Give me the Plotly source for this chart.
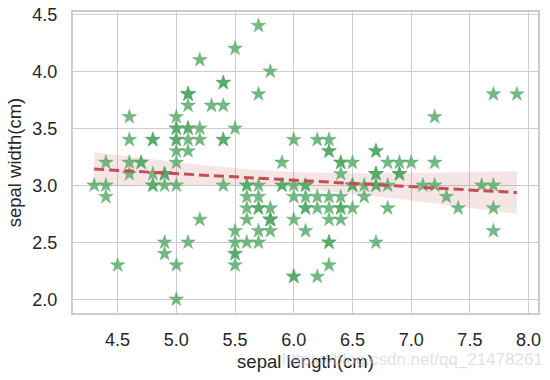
import numpy as np
import plotly.graph_objects as go

sepal_length = [
    5.1,4.9,4.7,4.6,5.0,5.4,4.6,5.0,4.4,4.9,5.4,4.8,4.8,4.3,5.8,5.7,5.4,5.1,5.7,5.1,
    5.4,5.1,4.6,5.1,4.8,5.0,5.0,5.2,5.2,4.7,4.8,5.4,5.2,5.5,4.9,5.0,5.5,4.9,4.4,5.1,
    5.0,4.5,4.4,5.0,5.1,4.8,5.1,4.6,5.3,5.0,
    7.0,6.4,6.9,5.5,6.5,5.7,6.3,4.9,6.6,5.2,5.0,5.9,6.0,6.1,5.6,6.7,5.6,5.8,6.2,5.6,
    5.9,6.1,6.3,6.1,6.4,6.6,6.8,6.7,6.0,5.7,5.5,5.5,5.8,6.0,5.4,6.0,6.7,6.3,5.6,5.5,
    5.5,6.1,5.8,5.0,5.6,5.7,5.7,6.2,5.1,5.7,
    6.3,5.8,7.1,6.3,6.5,7.6,4.9,7.3,6.7,7.2,6.5,6.4,6.8,5.7,5.8,6.4,6.5,7.7,7.7,6.0,
    6.9,5.6,7.7,6.3,6.7,7.2,6.2,6.1,6.4,7.2,7.4,7.9,6.4,6.3,6.1,7.7,6.3,6.4,6.0,6.9,
    6.7,6.9,5.8,6.8,6.7,6.7,6.3,6.5,6.2,5.9,
]
sepal_width = [
    3.5,3.0,3.2,3.1,3.6,3.9,3.4,3.4,2.9,3.1,3.7,3.4,3.0,3.0,4.0,4.4,3.9,3.5,3.8,3.8,
    3.4,3.7,3.6,3.3,3.4,3.0,3.4,3.5,3.4,3.2,3.1,3.4,4.1,4.2,3.1,3.2,3.5,3.1,3.0,3.4,
    3.5,2.3,3.2,3.5,3.8,3.0,3.8,3.2,3.7,3.3,
    3.2,3.2,3.1,2.3,2.8,2.8,3.3,2.4,2.9,2.7,2.0,3.0,2.2,2.9,2.9,3.1,3.0,2.7,2.2,2.5,
    3.2,2.8,2.5,2.8,2.9,3.0,2.8,3.0,2.9,2.6,2.4,2.4,2.7,2.7,3.0,3.4,3.1,2.3,3.0,2.5,
    2.6,3.0,2.6,2.3,2.7,3.0,2.9,2.9,2.5,2.8,
    3.3,2.7,3.0,2.9,3.0,3.0,2.5,2.9,2.5,3.6,3.2,2.7,3.0,2.5,2.8,3.2,3.0,3.8,2.6,2.2,
    3.2,2.8,2.8,2.7,3.3,3.2,2.8,3.0,2.8,3.0,2.8,3.8,2.8,2.8,2.6,3.0,3.4,3.1,3.0,3.1,
    3.1,3.1,2.7,3.2,3.3,3.0,2.5,3.0,3.4,3.0,
]
x_ticks = [4.5, 5.0, 5.5, 6.0, 6.5, 7.0, 7.5, 8.0]
y_ticks = [2.0, 2.5, 3.0, 3.5, 4.0, 4.5]

# linear fit with 95% confidence band
x = np.array(sepal_length)
y = np.array(sepal_width)
n = len(x)
slope, intercept = np.polyfit(x, y, 1)
xs = np.linspace(x.min(), x.max(), 100)
ys = intercept + slope * xs
resid = y - (intercept + slope * x)
s = np.sqrt(np.sum(resid ** 2) / (n - 2))
sxx = np.sum((x - x.mean()) ** 2)
se = s * np.sqrt(1 / n + (xs - x.mean()) ** 2 / sxx)
t = 1.976
lo, hi = ys - t * se, ys + t * se

fig = go.Figure()
fig.add_trace(go.Scatter(
    x=list(xs) + list(xs[::-1]), y=list(hi) + list(lo[::-1]),
    fill="toself", fillcolor="rgba(196,78,82,0.15)", line=dict(width=0),
    mode="lines", hoverinfo="skip", showlegend=False))
fig.add_trace(go.Scatter(
    x=sepal_length, y=sepal_width, mode="markers",
    marker=dict(symbol="star", size=11, color="rgba(85,168,104,0.82)",
                line=dict(width=0.5, color="rgba(85,168,104,0.85)")),
    showlegend=False))
fig.add_trace(go.Scatter(
    x=xs, y=ys, mode="lines",
    line=dict(color="#C44E52", width=3, dash="10px,5px"), showlegend=False))

font_color = "#262626"
fig.update_layout(
    width=550, height=380,
    margin=dict(l=73, r=12, t=12, b=67),
    paper_bgcolor="white", plot_bgcolor="white",
    font=dict(family="Liberation Sans, Arial, sans-serif", color=font_color, size=18),
    xaxis=dict(
        range=[4.12, 8.08], tickvals=x_ticks, ticktext=[f"{v:.1f}" for v in x_ticks],
        showgrid=True, gridcolor="#cccccc", gridwidth=1, zeroline=False,
        showline=True, linecolor="#cccccc", linewidth=2, mirror=True,
        ticks="", ticklabelstandoff=9, automargin=False,
        tickfont=dict(size=18),
        title=dict(text="sepal length(cm)", font=dict(size=18.5), standoff=6),
    ),
    yaxis=dict(
        range=[1.88, 4.52], tickvals=y_ticks, ticktext=[f"{v:.1f}" for v in y_ticks],
        showgrid=True, gridcolor="#cccccc", gridwidth=1, zeroline=False,
        showline=True, linecolor="#cccccc", linewidth=2, mirror=True,
        ticks="", ticklabelstandoff=10, automargin=False,
        tickfont=dict(size=18),
        title=dict(text="sepal width(cm)", font=dict(size=18.5), standoff=6),
    ),
    annotations=[dict(
        text="https://blog.csdn.net/qq_21478261", xref="paper", yref="paper",
        x=1.015, y=-0.156, xanchor="right", yanchor="middle", showarrow=False,
        font=dict(size=17, color="rgba(200,200,200,0.55)"))],
)

fig.write_html("out.html", config={"displayModeBar": False},
               post_script="document.body.style.margin='0px';")
